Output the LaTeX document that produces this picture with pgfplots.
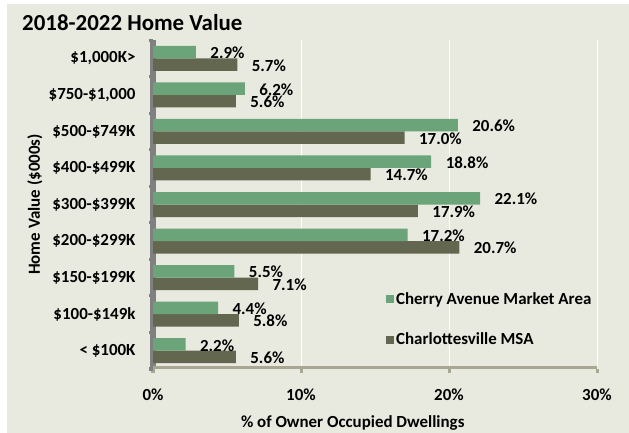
\documentclass[border=0pt]{standalone}
\usepackage{pgfplots}
\pgfplotsset{compat=1.18}
\usepackage{fontspec}
\setmainfont{Carlito}
\definecolor{bgc}{RGB}{233,234,223}
\definecolor{grn}{RGB}{106,164,120}
\definecolor{drk}{RGB}{100,103,80}
\definecolor{xax}{RGB}{168,168,146}
\definecolor{yax}{RGB}{128,128,128}
\newcommand{\lf}{\bfseries\fontsize{17}{20}\selectfont}
\begin{document}
\begin{tikzpicture}
\useasboundingbox (0,0) rectangle (629bp,433bp);
\fill[white] (0,0) rectangle (629bp,433bp);
\fill[bgc] (7bp,0) rectangle (629bp,429bp);
\node[anchor=west,font=\bfseries\fontsize{23}{26}\selectfont,inner sep=0pt] at (22bp,410.5bp) {2018-2022 Home Value};
\begin{axis}[
  at={(153bp,64bp)}, anchor=south west,
  scale only axis, width=444bp, height=329bp,
  xbar, bar width=12.5bp,
  xmin=0, xmax=30, ymin=-0.5, ymax=8.5,
  /pgf/number format/assume math mode=true,
  axis lines*=left,
  x axis line style={draw=none},
  y axis line style={color=yax, line width=5bp},
  xtick={0,10,20,30},
  xticklabel={\pgfmathprintnumber{\tick}\%},
  xticklabel style={font=\lf, yshift=-12bp},
  x tick style={color=xax, line width=3bp},
  tick align=outside,
  major tick length=4bp,
  ytick={0,...,8},
  yticklabels={{< \$100K},{\$100-\$149k},{\$150-\$199K},{\$200-\$299K},{\$300-\$399K},{\$400-\$499K},{\$500-\$749K},{\$750-\$1,000},{\$1,000K>}},
  yticklabel style={font=\lf, xshift=-10bp},
  y tick style={draw=none},
  minor ytick={-0.5,0.5,...,8.5},
  minor y tick style={draw=yax, line width=3bp},
  minor tick length=4bp,
  xmajorgrids, major grid style={white, line width=1bp},
  xlabel={\% of Owner Occupied Dwellings},
  ylabel={Home Value (\$000s)},
  every axis x label/.style={at={(axis description cs:0.45,0)}, anchor=center, yshift=-54bp, font=\lf},
  every axis y label/.style={at={(axis description cs:-0.2658,0.5)}, rotate=90, anchor=center, font=\lf},
  point meta=x,
  nodes near coords={\pgfmathprintnumber[fixed,fixed zerofill,precision=1]{\pgfplotspointmeta}\%},
  nodes near coords style={anchor=west, xshift=11bp, yshift=-0.8bp, font=\lf, text=black},
  reverse legend,
  legend style={at={(axis cs:15.54,0.854)}, anchor=west, draw=none, fill=none, font=\lf, row sep=23bp, cells={anchor=west}},
  legend image code/.code={\fill[#1] (0bp,-4bp) rectangle (8bp,4bp);},
]
\addplot[fill=drk, draw=none, bar shift=-6.25bp] coordinates {
(5.6,0) (5.8,1) (7.1,2) (20.7,3) (17.9,4) (14.7,5) (17.0,6) (5.6,7) (5.7,8)};
\addlegendentry{Charlottesville MSA}
\addplot[fill=grn, draw=none, bar shift=6.25bp] coordinates {
(2.2,0) (4.4,1) (5.5,2) (17.2,3) (22.1,4) (18.8,5) (20.6,6) (6.2,7) (2.9,8)};
\addlegendentry{Cherry Avenue Market Area}
\draw[xax, line width=5bp] (rel axis cs:0,0) -- ([xshift=2bp]rel axis cs:1,0);
\end{axis}
\end{tikzpicture}
\end{document}
